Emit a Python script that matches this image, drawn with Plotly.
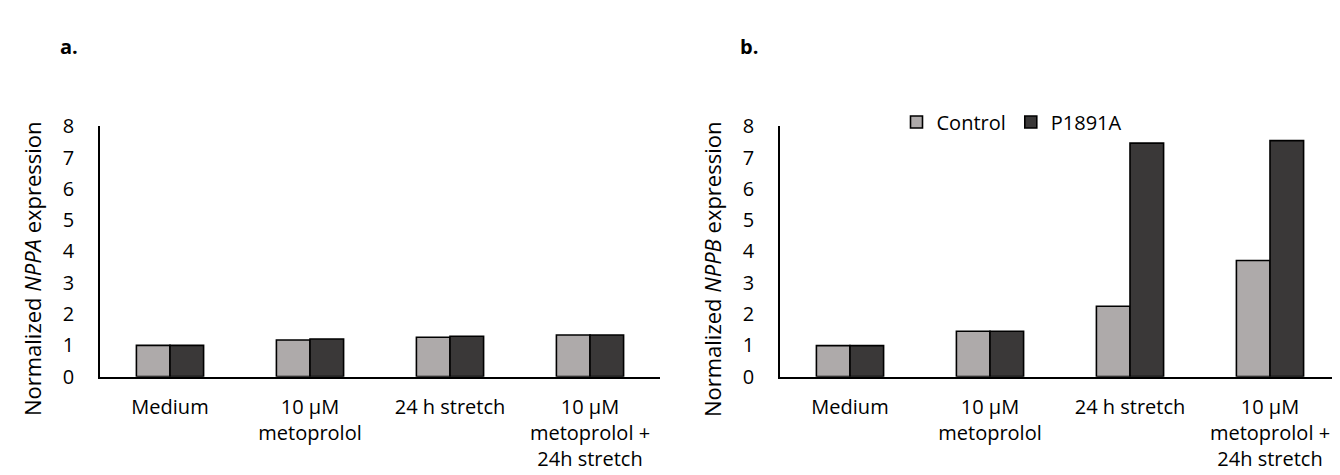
import plotly.graph_objects as go

# ---- data ----
categories = ["Medium", "10 µM<br>metoprolol", "24 h stretch", "10 µM<br>metoprolol +<br>24h stretch"]
series_names = ["Control", "P1891A"]
nppa_control = [1.00, 1.17, 1.26, 1.33]
nppa_p1891a = [1.00, 1.20, 1.29, 1.33]
nppb_control = [0.99, 1.45, 2.25, 3.71]
nppb_p1891a = [0.99, 1.45, 7.46, 7.54]
y_ticks = [0, 1, 2, 3, 4, 5, 6, 7, 8]

# ---- style ----
W, H = 1340, 475
FONT = "Open Sans"
C_LIGHT = "#AEAAAA"
C_DARK = "#3A3838"
TICK_SIZE = 20

fig = go.Figure()

def add_bars(vals_c, vals_p, xa, ya, show):
    fig.add_trace(go.Bar(x=categories, y=vals_c, name=series_names[0], xaxis=xa, yaxis=ya,
                         marker=dict(color=C_LIGHT, line=dict(color="black", width=1.6)),
                         showlegend=show, legendgroup="c"))
    fig.add_trace(go.Bar(x=categories, y=vals_p, name=series_names[1], xaxis=xa, yaxis=ya,
                         marker=dict(color=C_DARK, line=dict(color="black", width=1.6)),
                         showlegend=show, legendgroup="p"))

add_bars(nppa_control, nppa_p1891a, "x", "y", False)
add_bars(nppb_control, nppb_p1891a, "x2", "y2", True)

ydom = [(H - 376) / H, (H - 110.5) / H]

xcommon = dict(showline=True, linecolor="black", linewidth=2, showgrid=False, zeroline=False,
               ticks="", tickfont=dict(family=FONT, size=TICK_SIZE, color="black"),
               ticklabelstandoff=11, fixedrange=True)
ycommon = dict(showline=True, linecolor="black", linewidth=1.8, showgrid=False, zeroline=False,
               range=[0, 8], tickvals=y_ticks, ticks="",
               tickfont=dict(family=FONT, size=TICK_SIZE, color="black"),
               ticklabelstandoff=20, domain=ydom, fixedrange=True)

fig.update_layout(
    width=W, height=H,
    margin=dict(l=0, r=0, t=0, b=0),
    paper_bgcolor="white", plot_bgcolor="white",
    barmode="group", bargap=0.52, bargroupgap=0,
    font=dict(family=FONT, color="black"),
    xaxis=dict(domain=[92 / W, 652 / W], anchor="y", **xcommon),
    yaxis=dict(anchor="x", **ycommon),
    xaxis2=dict(domain=[772 / W, 1332 / W], anchor="y2", **xcommon),
    yaxis2=dict(anchor="x2", **ycommon),
    legend=dict(orientation="h", x=1004 / W, xanchor="center", y=(H - 106) / H, yanchor="middle",
                font=dict(family=FONT, size=TICK_SIZE, color="black"), bgcolor="rgba(0,0,0,0)",
                traceorder="normal", itemwidth=30),
    showlegend=True,
)

annots = [
    dict(text="<b>a.</b>", x=50 / W, y=(H - 26) / H, xanchor="left", yanchor="middle"),
    dict(text="<b>b.</b>", x=730 / W, y=(H - 26) / H, xanchor="left", yanchor="middle"),
]
for a in annots:
    fig.add_annotation(xref="paper", yref="paper", showarrow=False,
                       font=dict(family=FONT, size=20, color="black"), **a)

for xc, label in [(24, "Normalized <i>NPPA</i> expression"), (704, "Normalized <i>NPPB</i> expression")]:
    fig.add_annotation(xref="paper", yref="paper", x=xc / W, y=(H - 262) / H, text=label,
                       textangle=-90, showarrow=False, xanchor="center", yanchor="middle",
                       font=dict(family=FONT, size=22, color="black"))

fig.write_html("out.html")
